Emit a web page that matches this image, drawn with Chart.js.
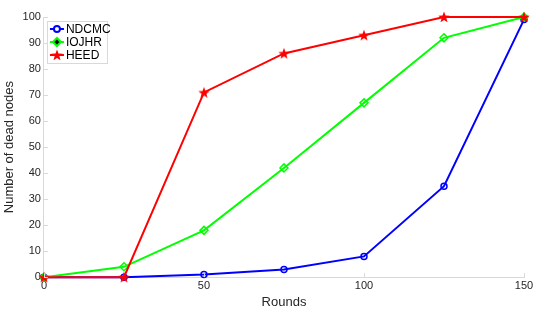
<!DOCTYPE html>
<html>
<head>
<meta charset="utf-8">
<script src="https://cdn.jsdelivr.net/npm/chart.js@4"></script>
<style>
  html, body { margin: 0; padding: 0; background: #fff; }
  #wrap { width: 550px; height: 314px; }
</style>
</head>
<body>
<div id="wrap"><canvas id="deadChart" width="550" height="314"></canvas></div>
<script>
// data
var rounds = [0, 25, 50, 75, 100, 125, 150];
var ndcmc = [0, 0, 1, 3, 8, 35, 99];
var iojhr = [0, 4, 18, 42, 67, 92, 100];
var heed = [0, 0, 71, 86, 93, 100, 100];
var xTicks = [0, 50, 100, 150];

var FONT = '"Liberation Sans", Arial, sans-serif';

function pts(ys) {
    return rounds.map(function (r, i) { return { x: r, y: ys[i] }; });
}

// filled five point star, chart.js 'star' is only an asterisk
function starImg(color, R) {
    var cv = document.createElement('canvas');
    var s = Math.ceil(R * 2 + 2);
    cv.width = s; cv.height = s;
    var g = cv.getContext('2d');
    var cx = s / 2, cy = s / 2 + 0.5, r = R * 0.42;
    g.beginPath();
    for (var i = 0; i < 10; i++) {
        var ang = -Math.PI / 2 + i * Math.PI / 5;
        var rr = i % 2 === 0 ? R : r;
        g.lineTo(cx + rr * Math.cos(ang), cy + rr * Math.sin(ang));
    }
    g.closePath();
    g.fillStyle = color;
    g.fill();
    return cv;
}
var star = starImg('#ff0000', 6);

var series = [
    { label: 'NDCMC', data: pts(ndcmc), color: '#0000ff', style: 'circle', r: 3, order: 2 },
    { label: 'IOJHR', data: pts(iojhr), color: '#00ff00', style: 'rectRot', r: 4, order: 1 },
    { label: 'HEED', data: pts(heed), color: '#ff0000', style: star, r: 6, order: 0 }
];

// small inward tick marks and the legend box, matlab style
var extras = {
    id: 'extras',
    afterDraw: function (chart) {
        var c = chart.ctx, a = chart.chartArea;
        var xs = chart.scales.x, ys = chart.scales.y;
        c.save();
        c.strokeStyle = '#d9d9d9';
        c.lineWidth = 1;
        c.beginPath();
        xTicks.forEach(function (v) {
            var px = Math.round(xs.getPixelForValue(v)) + 0.5;
            c.moveTo(px, a.bottom); c.lineTo(px, a.bottom - 4);
        });
        for (var v = 0; v <= 100; v += 10) {
            var py = Math.round(ys.getPixelForValue(v)) + 0.5;
            c.moveTo(a.left, py); c.lineTo(a.left + 4, py);
        }
        c.stroke();

        // legend
        var lx = a.left + 3, ly = a.top + 4, lw = 60, lh = 42;
        c.fillStyle = '#fff';
        c.fillRect(lx, ly, lw, lh);
        c.strokeStyle = '#d9d9d9';
        c.strokeRect(lx + 0.5, ly + 0.5, lw, lh);
        c.font = '12px ' + FONT;
        c.textBaseline = 'middle';
        series.forEach(function (s, i) {
            var yy = ly + 8 + i * 13;
            c.strokeStyle = s.color;
            c.lineWidth = 2;
            c.beginPath();
            c.moveTo(lx + 3, yy); c.lineTo(lx + 17, yy);
            c.stroke();
            Chart.helpers.drawPoint(c, { pointStyle: s.style, radius: s.r, rotation: 0, borderWidth: 1.5 }, lx + 10, yy);
            c.fillStyle = '#000';
            c.fillText(s.label, lx + 19, yy + 1);
        });
        c.restore();
    }
};

var ctx = document.getElementById('deadChart').getContext('2d');
var chart = new Chart(ctx, {
    type: 'line',
    data: {
        datasets: series.map(function (s) {
            return {
                label: s.label,
                data: s.data,
                order: s.order,
                clip: false,
                borderColor: s.color,
                backgroundColor: s.color,
                borderWidth: 2,
                pointStyle: s.style,
                pointRadius: s.r,
                pointBorderWidth: 1.5,
                pointBackgroundColor: 'rgba(0,0,0,0)',
                pointBorderColor: s.color,
                tension: 0
            };
        })
    },
    options: {
        responsive: false,
        animation: false,
        layout: { padding: { top: 17, right: 26, left: 2, bottom: 4 } },
        plugins: {
            legend: { display: false },
            tooltip: { enabled: false }
        },
        scales: {
            x: {
                type: 'linear',
                min: 0,
                max: 150,
                afterBuildTicks: function (scale) {
                    scale.ticks = xTicks.map(function (v) { return { value: v }; });
                },
                grid: { drawOnChartArea: false, drawTicks: false, color: '#d9d9d9' },
                border: { color: '#d9d9d9' },
                ticks: { color: '#262626', padding: 2, font: { size: 11, family: FONT } },
                title: { display: true, text: 'Rounds', color: '#262626', padding: { top: 0, bottom: 0 }, font: { size: 13, family: FONT } }
            },
            y: {
                min: 0,
                max: 100,
                ticks: { stepSize: 10, color: '#262626', padding: 3, font: { size: 11, family: FONT } },
                grid: { drawOnChartArea: false, drawTicks: false, color: '#d9d9d9' },
                border: { color: '#d9d9d9' },
                title: { display: true, text: 'Number of dead nodes', color: '#262626', padding: { top: 0, bottom: 2 }, font: { size: 13, family: FONT } }
            }
        }
    },
    plugins: [extras]
});
</script>
</body>
</html>
